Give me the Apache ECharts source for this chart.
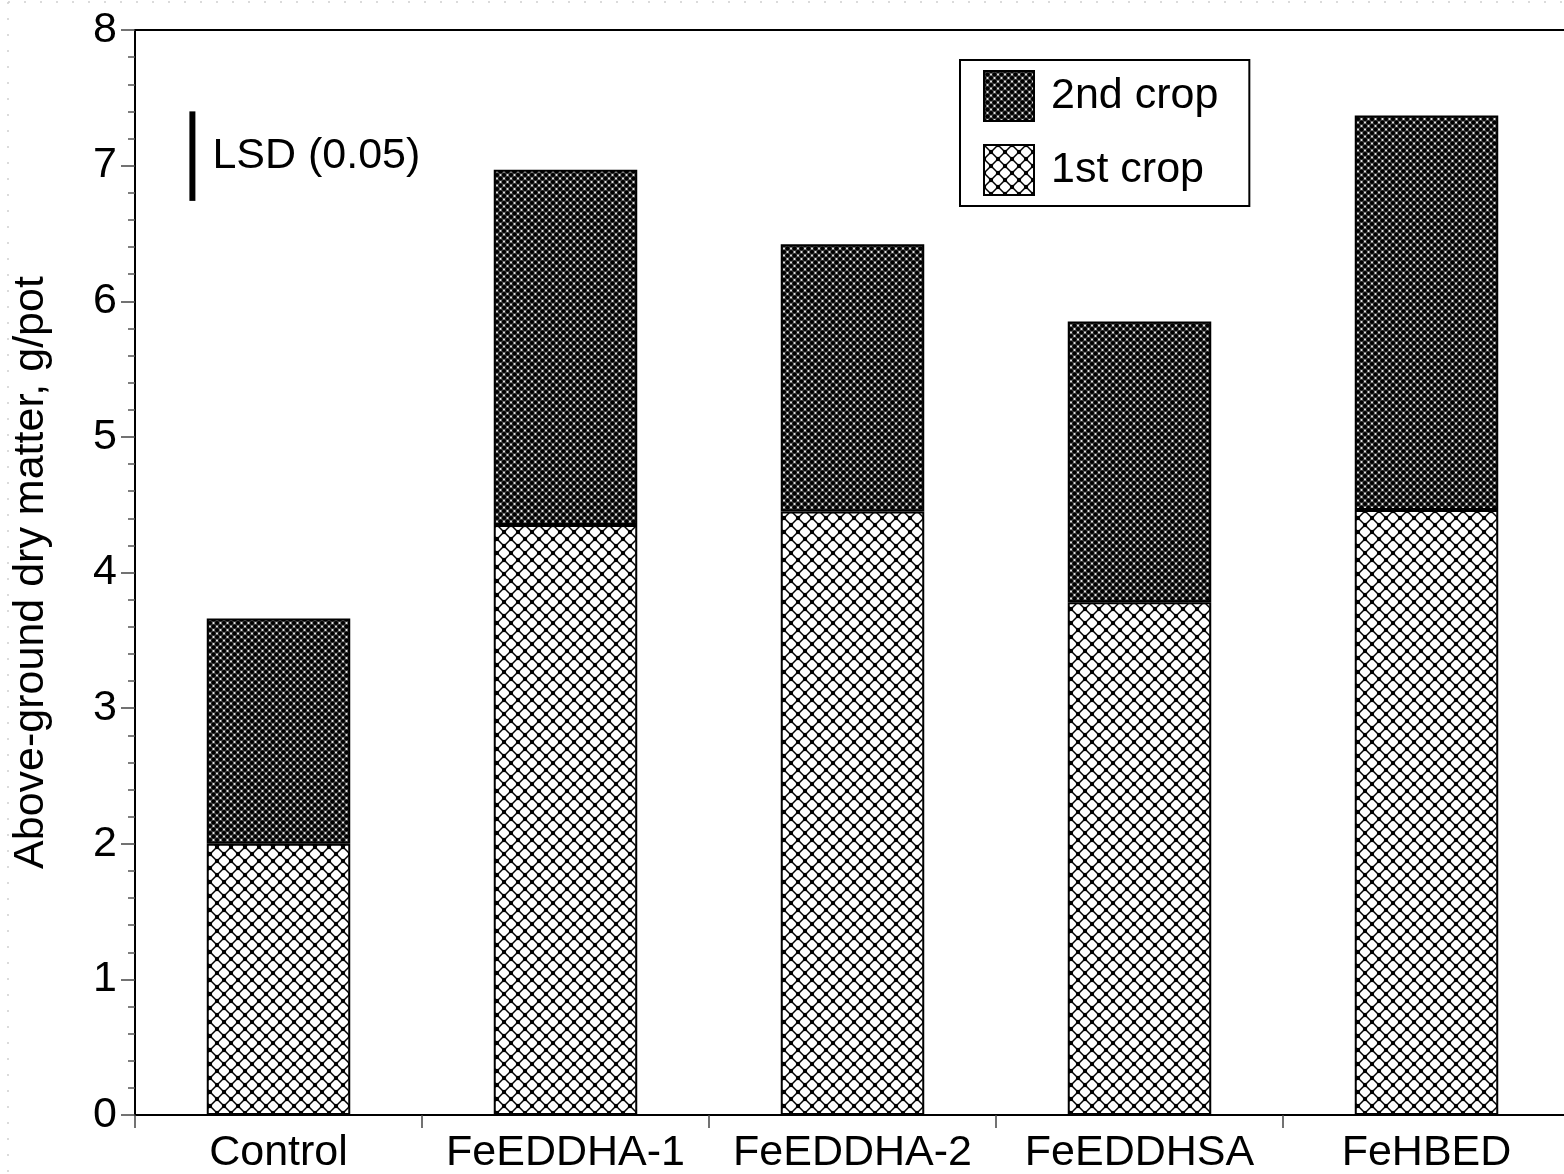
<!DOCTYPE html>
<html>
<head>
<meta charset="utf-8">
<style>
  html, body { margin: 0; padding: 0; background: #fff; }
  #chart { width: 1564px; height: 1174px; }
</style>
<script src="https://cdn.jsdelivr.net/npm/echarts@6/dist/echarts.min.js"></script>
</head>
<body>
<div id="chart"></div>
<script>
// Treatments and above-ground dry matter (g/pot) per crop
const categories = ['Control', 'FeEDDHA-1', 'FeEDDHA-2', 'FeEDDHSA', 'FeHBED'];
const firstCrop = [2.00, 4.35, 4.45, 3.78, 4.46];
const secondCrop = [1.66, 2.62, 1.97, 2.07, 2.91];
// LSD bar: x position (in category units), low end, high end
const lsdBar = [[0.2, 6.74, 7.40]];
const lsdLabel = 'LSD (0.05)';
const yTitle = 'Above-ground dry matter, g/pot';

const FONT = '"Liberation Sans", Arial, Helvetica, sans-serif';
const FS = 43;

// Open cross-hatch with dots at the crossings
function lightHatch() {
  const s = 14, c = document.createElement('canvas');
  c.width = s; c.height = s;
  const g = c.getContext('2d');
  g.fillStyle = '#fff'; g.fillRect(0, 0, s, s);
  g.strokeStyle = '#000'; g.lineWidth = 1.5;
  g.beginPath();
  g.moveTo(0, 0); g.lineTo(s, s);
  g.moveTo(s, 0); g.lineTo(0, s);
  g.stroke();
  g.fillStyle = '#000';
  [[0, 0], [s, 0], [0, s], [s, s], [s / 2, s / 2]].forEach(p => {
    g.beginPath(); g.arc(p[0], p[1], 2.2, 0, Math.PI * 2); g.fill();
  });
  return c;
}

// Dense dark cross-hatch
function darkHatch() {
  const s = 7, c = document.createElement('canvas');
  c.width = s; c.height = s;
  const g = c.getContext('2d');
  g.fillStyle = '#4a4a4a'; g.fillRect(0, 0, s, s);
  g.fillStyle = '#000';
  [[0, 0], [s, 0], [0, s], [s, s], [s / 2, s / 2]].forEach(p => {
    g.beginPath(); g.arc(p[0], p[1], 2.1, 0, Math.PI * 2); g.fill();
  });
  g.fillStyle = '#f0f0f0';
  [[s / 2, 0], [0, s / 2], [s, s / 2], [s / 2, s]].forEach(p => {
    g.beginPath(); g.arc(p[0], p[1], 1.0, 0, Math.PI * 2); g.fill();
  });
  return c;
}

const chart = echarts.init(document.getElementById('chart'), null, { renderer: 'canvas' });

chart.setOption({
  backgroundColor: '#fff',
  animation: false,
  textStyle: { fontFamily: FONT, color: '#000' },
  grid: {
    left: 135, top: 30, width: 1435, height: 1085,
    containLabel: false, outerBoundsMode: 'none',
    show: true, borderColor: '#000', borderWidth: 2, backgroundColor: 'transparent'
  },
  graphic: [
    { type: 'line', shape: { x1: 8, y1: 2, x2: 1564, y2: 2 },
      style: { stroke: '#cfcfcf', lineWidth: 1.5, lineDash: [2, 14] }, silent: true },
    { type: 'line', shape: { x1: 8, y1: 2, x2: 8, y2: 1174 },
      style: { stroke: '#cfcfcf', lineWidth: 1.5, lineDash: [2, 14] }, silent: true }
  ],
  legend: {
    data: [{ name: '2nd crop', icon: 'rect' }, { name: '1st crop', icon: 'rect' }],
    orient: 'vertical',
    left: 960, top: 60,
    itemWidth: 50, itemHeight: 50, itemGap: 22,
    padding: [10, 31, 10, 23],
    borderColor: '#000', borderWidth: 2,
    textStyle: { fontSize: FS, fontFamily: FONT, color: '#000', padding: [0, 0, 0, 12] },
    selectedMode: false
  },
  xAxis: [
    {
      type: 'category',
      data: categories,
      axisLine: { lineStyle: { color: '#000', width: 2 } },
      axisTick: { show: true, interval: 0, length: 13, alignWithLabel: false, lineStyle: { color: '#444', width: 1.5 } },
      axisLabel: { interval: 0, fontSize: FS, color: '#000', fontFamily: FONT, margin: 17 }
    },
    { type: 'value', min: 0, max: 5, show: false }
  ],
  yAxis: {
    type: 'value',
    min: 0, max: 8, interval: 1,
    name: yTitle,
    nameLocation: 'middle',
    nameGap: 82,
    nameTextStyle: { fontSize: FS, color: '#000', fontFamily: FONT },
    axisLine: { show: true, lineStyle: { color: '#000', width: 2 } },
    axisTick: { show: true, length: 14, lineStyle: { color: '#444', width: 1.5 } },
    minorTick: { show: true, splitNumber: 5, length: 7, lineStyle: { color: '#555', width: 1.5 } },
    splitLine: { show: false },
    axisLabel: { fontSize: FS, color: '#000', fontFamily: FONT, margin: 18 }
  },
  series: [
    {
      name: '1st crop', type: 'bar', stack: 'dm', barWidth: '50%',
      data: firstCrop,
      itemStyle: { color: { image: lightHatch(), repeat: 'repeat' }, borderColor: '#000', borderWidth: 2 }
    },
    {
      name: '2nd crop', type: 'bar', stack: 'dm', barWidth: '50%',
      data: secondCrop,
      itemStyle: { color: { image: darkHatch(), repeat: 'repeat' }, borderColor: '#000', borderWidth: 2 }
    },
    {
      name: 'LSD', type: 'custom', xAxisIndex: 1, silent: true,
      data: lsdBar,
      renderItem: function (params, api) {
        const lo = api.coord([api.value(0), api.value(1)]);
        const hi = api.coord([api.value(0), api.value(2)]);
        return {
          type: 'group',
          children: [
            { type: 'line', shape: { x1: lo[0], y1: lo[1], x2: hi[0], y2: hi[1] },
              style: { stroke: '#000', lineWidth: 6 } },
            { type: 'text', style: { x: lo[0] + 20, y: (lo[1] + hi[1]) / 2, text: lsdLabel,
              font: FS + 'px ' + FONT, fill: '#000', textAlign: 'left', textVerticalAlign: 'middle' } }
          ]
        };
      }
    }
  ]
});
</script>
</body>
</html>
